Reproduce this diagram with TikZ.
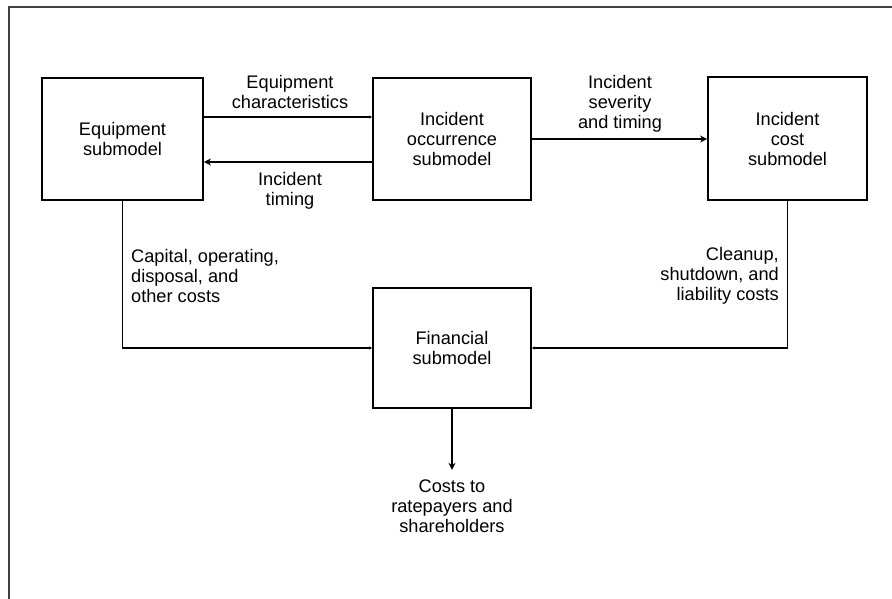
\documentclass[tikz,border=0pt]{standalone}
\usepackage{fontspec}
\setmainfont{Liberation Sans}
\usetikzlibrary{arrows.meta}
\begin{document}
\begin{tikzpicture}[x=1pt,y=-1pt,
  every node/.style={font=\fontsize{18.2}{20}\selectfont, inner sep=0pt},
  box/.style={draw, line width=1.9pt, align=center},
  lab/.style={align=center},
  conn/.style={line width=1.2pt},
  arr/.style={conn, -{Stealth[length=7pt,width=7pt]}},
  faint/.style={conn, -{Stealth[length=3pt,width=3pt]}}]
\useasboundingbox (0,0) rectangle (892,599);
% outer frame
\draw[line width=1.5pt, black!75] (892,7) -- (9,7) -- (9,599);
% boxes
\node[box, minimum width=161pt, minimum height=122pt] (eq) at (122.5,139) {Equipment\\submodel};
\node[box, minimum width=158pt, minimum height=122pt] (occ) at (452,139) {Incident\\occurrence\\submodel};
\node[box, minimum width=159pt, minimum height=123pt] (cost) at (787.5,138.5) {Incident\\cost\\submodel};
\node[box, minimum width=158pt, minimum height=120pt] (fin) at (452,348) {Financial\\submodel};
\node[lab, inner ysep=9.5pt] (out) at (452,506) {Costs to\\ratepayers and\\shareholders};
% labels
\node[lab] (lchar) at (290,92) {Equipment\\characteristics};
\node[lab] (ltim) at (290,191) {Incident\\timing};
\node[lab] (lsev) at (620,104) {Incident\\severity\\and timing};
\node[align=left, anchor=west] (lcap) at (131,276) {Capital, operating,\\disposal, and\\other costs};
\node[align=right, anchor=east] (lclean) at (779,276) {Cleanup,\\shutdown, and\\liability costs};
% connectors
\draw[faint] (eq.east |- 0,117) -- (occ.west |- 0,117);
\draw[arr] (occ.west |- 0,162) -- (eq.east |- 0,162);
\draw[arr] (occ.east |- 0,139) -- (cost.west |- 0,139);
\draw[faint] (eq.south) |- (fin.west);
\draw[faint] (cost.south) |- (fin.east);
\draw[arr] (fin.south) -- (out.north);
\end{tikzpicture}
\end{document}
